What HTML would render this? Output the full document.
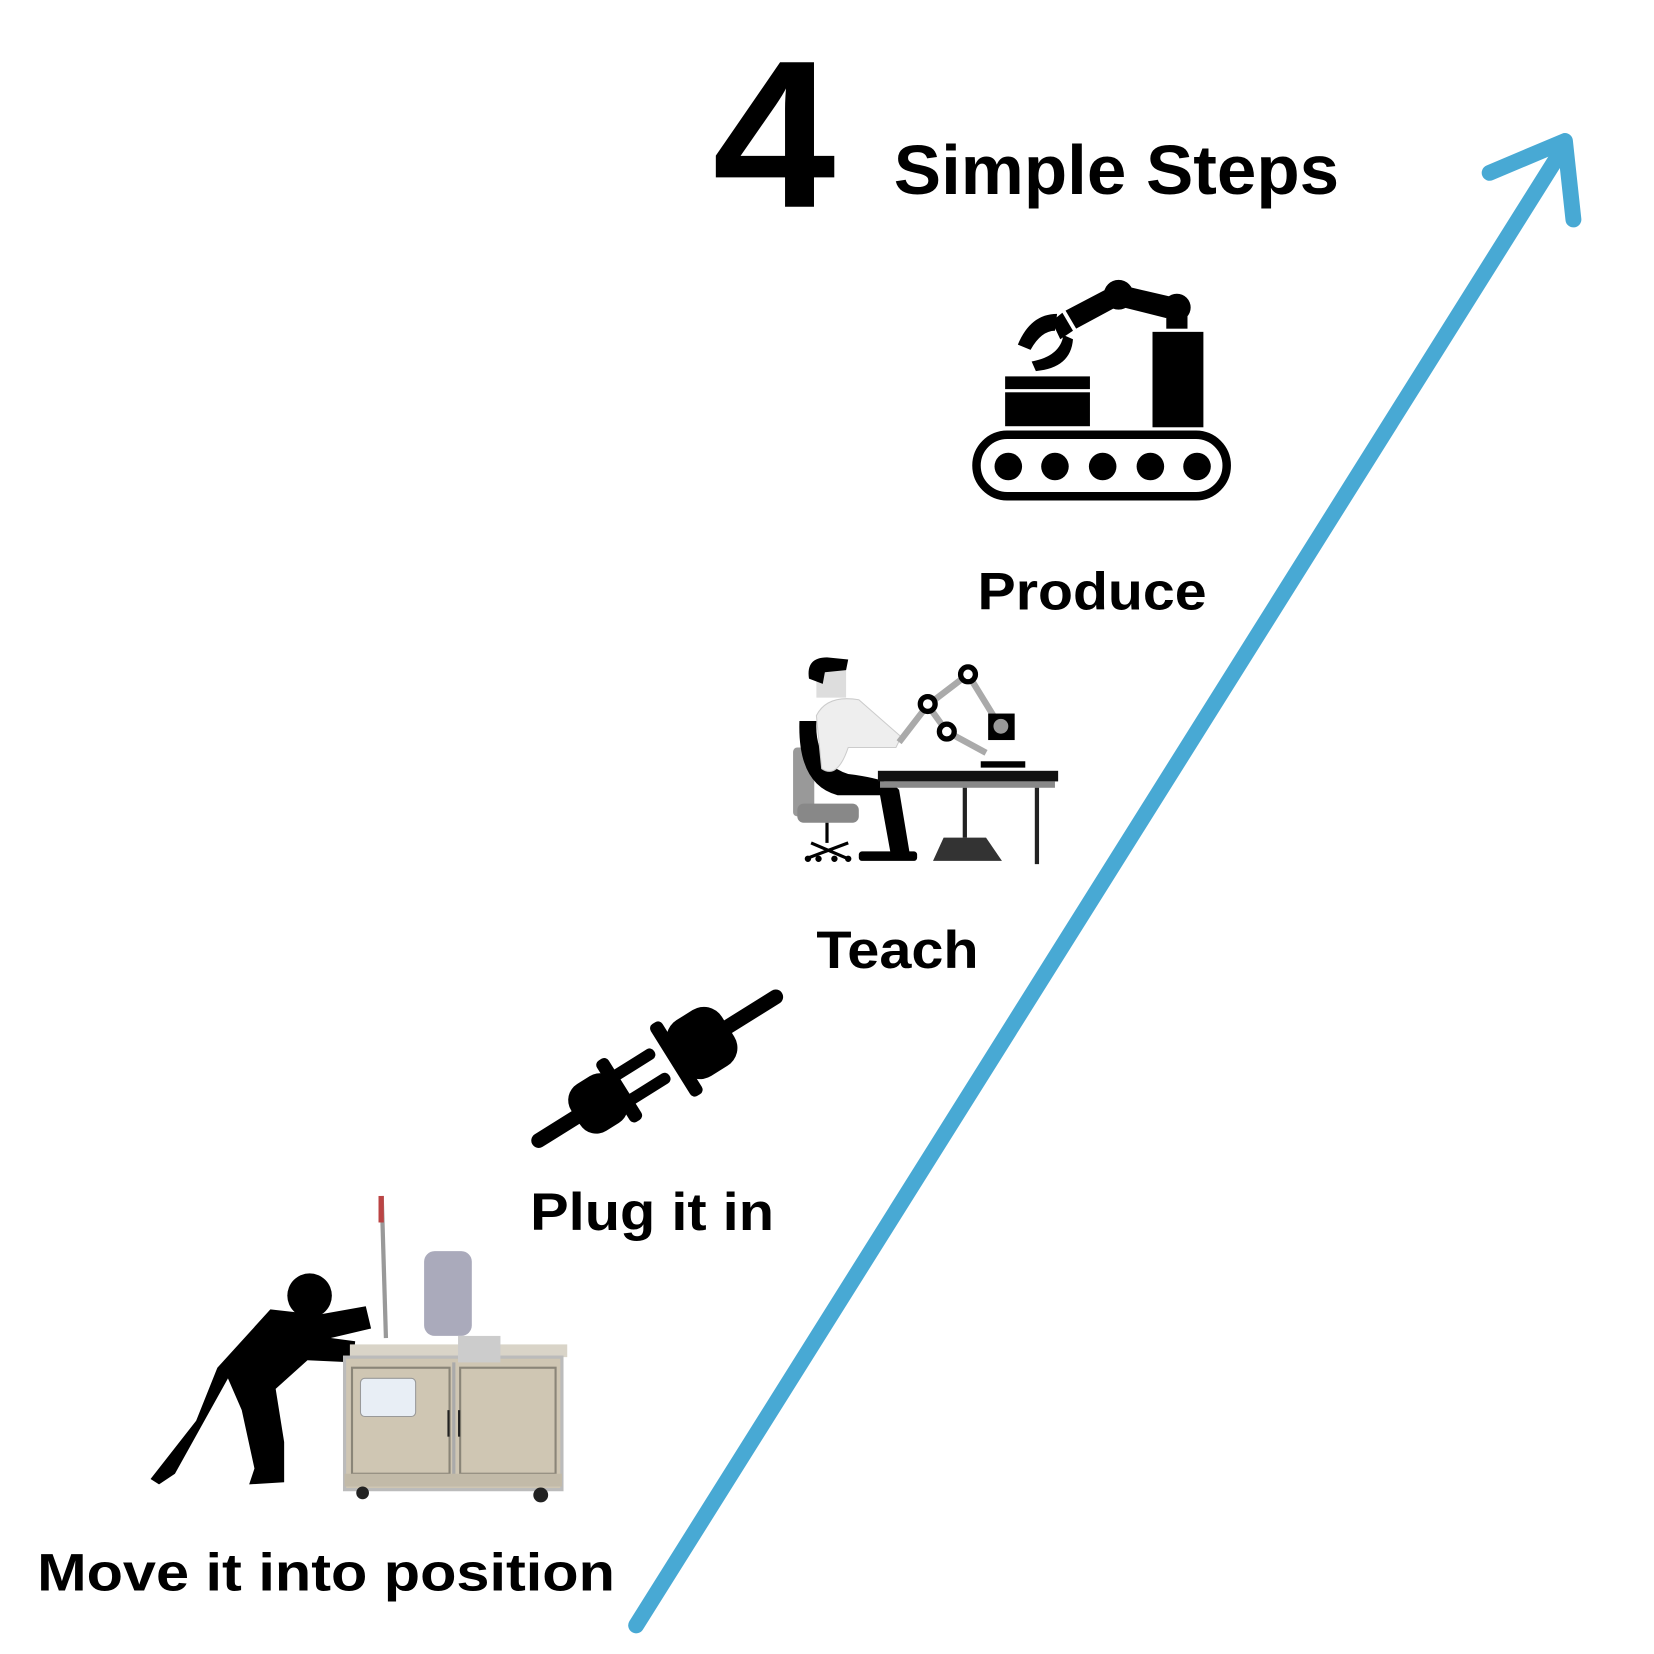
<!DOCTYPE html>
<html><head><meta charset="utf-8"><style>
html,body{margin:0;padding:0;background:#fff;}
svg{display:block;}
text{font-family:"Liberation Sans",sans-serif;font-weight:bold;fill:#000;}
</style></head><body>
<svg width="1654" height="1654" viewBox="0 0 1560 1560" xmlns="http://www.w3.org/2000/svg">
<rect width="1560" height="1560" fill="#fff"/>
<!-- title -->
<text x="672" y="195" font-size="198" textLength="116" lengthAdjust="spacingAndGlyphs">4</text>
<text x="843" y="183" font-size="66" textLength="420" lengthAdjust="spacingAndGlyphs">Simple Steps</text>
<!-- arrow -->
<g stroke="#48A9D4" stroke-width="15" stroke-linecap="round" fill="none">
<line x1="600" y1="1533" x2="1474" y2="140"/>
<polyline points="1405,163 1476,133 1484,207" stroke-linejoin="round"/>
</g>
<!-- Produce icon -->
<g fill="#000">
<rect x="921" y="410" width="236" height="58" rx="29" fill="none" stroke="#000" stroke-width="8"/>
<circle cx="951" cy="440" r="13"/><circle cx="995" cy="440" r="13"/><circle cx="1040" cy="440" r="13"/><circle cx="1085" cy="440" r="13"/><circle cx="1129" cy="440" r="13"/>
<rect x="948" y="355" width="80" height="12"/>
<rect x="948" y="370" width="80" height="32"/>
<rect x="1087" y="313" width="48" height="90"/>
<circle cx="1110" cy="290" r="13"/>
<rect x="1100" y="298" width="20" height="12"/>
<circle cx="1055" cy="278" r="14"/>
<polygon points="1062,270 1105,280 1100,300 1060,290"/>
<polygon points="1045,272 1052,290 1015,310 1005,293"/>
<polygon points="1002,295 1012,312 1000,320 992,303"/>
<path d="M997,296 Q972,296 960,325 L972,330 Q982,312 995,312 Z"/>
<path d="M1003,316 Q1000,336 973,341 L977,350 Q1010,347 1012,320 Z"/>
</g>
<text x="922" y="575" font-size="50" textLength="216" lengthAdjust="spacingAndGlyphs">Produce</text>
<!-- Teach illustration -->
<g>
<rect x="748" y="705" width="20" height="65" rx="4" fill="#999"/>
<rect x="752" y="758" width="58" height="18" rx="6" fill="#888"/>
<g stroke="#000" stroke-width="3"><line x1="780" y1="776" x2="780" y2="795"/><line x1="760" y1="810" x2="800" y2="795"/><line x1="800" y1="810" x2="765" y2="795"/></g>
<circle cx="762" cy="810" r="3"/><circle cx="772" cy="810" r="3"/><circle cx="787" cy="810" r="3"/><circle cx="800" cy="810" r="3"/>
<path d="M754,680 Q752,740 790,750 L830,750 L840,805 L858,805 L848,745 Q840,735 800,730 Q768,720 770,680 Z" fill="#000"/>
<path d="M770,675 Q780,655 810,660 L850,695 L845,705 L800,705 Q790,735 775,725 Z" fill="#eee" stroke="#ccc"/>
<rect x="770" y="632" width="28" height="26" fill="#ddd"/>
<path d="M763,640 Q760,620 780,620 L800,622 L798,632 L778,634 L776,645 Z" fill="#000"/>
<rect x="810" y="803" width="55" height="9" rx="3" fill="#000"/>
<rect x="828" y="727" width="170" height="10" fill="#111"/>
<rect x="830" y="737" width="165" height="6" fill="#888"/>
<line x1="978" y1="743" x2="978" y2="815" stroke="#222" stroke-width="4"/>
<line x1="910" y1="743" x2="910" y2="790" stroke="#222" stroke-width="4"/>
<path d="M880,812 L890,790 L930,790 L945,812 Z" fill="#333"/>
<g stroke="#aaa" stroke-width="6" fill="none"><polyline points="848,700 875,665 893,690 930,710"/><polyline points="875,665 913,636 940,680"/></g>
<g fill="#fff" stroke="#000" stroke-width="5"><circle cx="875" cy="664" r="7"/><circle cx="913" cy="636" r="7"/><circle cx="893" cy="690" r="7"/></g>
<rect x="932" y="673" width="25" height="25" fill="#000"/><circle cx="944" cy="685" r="7" fill="#999"/>
<rect x="925" y="718" width="42" height="6" fill="#000"/>
</g>
<text x="770" y="913" font-size="50" textLength="153" lengthAdjust="spacingAndGlyphs">Teach</text>
<!-- Plugs -->
<g fill="#000">
<g transform="translate(570,1037) rotate(-32)">
<rect x="-80" y="-7" width="60" height="14" rx="7"/>
<rect x="-32" y="-26" width="50" height="52" rx="18"/>
<rect x="10" y="-34" width="13" height="68" rx="5"/>
<rect x="18" y="-19" width="46" height="11" rx="5"/>
<rect x="18" y="8" width="46" height="11" rx="5"/>
</g>
<g transform="translate(668,980) rotate(-32)">
<rect x="-42" y="-40" width="13" height="80" rx="5"/>
<rect x="-36" y="-31" width="58" height="62" rx="20"/>
<rect x="10" y="-7" width="72" height="14" rx="7"/>
</g>
</g>
<text x="500" y="1160" font-size="50" textLength="230" lengthAdjust="spacingAndGlyphs">Plug it in</text>
<!-- Pushing person and cart -->
<g fill="#000">
<circle cx="292" cy="1222" r="21"/>
<path d="M255,1235 L300,1240 L345,1232 L350,1253 L312,1262 L335,1265 L333,1285 L290,1283 L260,1310 L268,1360 L268,1398 L235,1400 L240,1385 L228,1330 L215,1300 L165,1390 L150,1400 L142,1395 L185,1340 L205,1290 Z"/>
</g>
<line x1="360" y1="1128" x2="364" y2="1262" stroke="#999" stroke-width="4"/>
<rect x="357" y="1128" width="5" height="25" fill="#b44"/>
<rect x="400" y="1180" width="45" height="80" rx="10" fill="#aab"/>
<rect x="330" y="1268" width="205" height="12" fill="#d9d4c8"/>
<rect x="325" y="1280" width="205" height="125" fill="#cfc6b3" stroke="#bbb" stroke-width="3"/>
<rect x="332" y="1290" width="92" height="100" fill="none" stroke="#8a8578" stroke-width="2"/>
<rect x="434" y="1290" width="90" height="100" fill="none" stroke="#8a8578" stroke-width="2"/>
<line x1="428" y1="1285" x2="428" y2="1400" stroke="#aaa" stroke-width="3"/>
<line x1="423" y1="1330" x2="423" y2="1355" stroke="#222" stroke-width="2"/>
<line x1="433" y1="1330" x2="433" y2="1355" stroke="#222" stroke-width="2"/>
<rect x="325" y="1390" width="205" height="12" fill="#c2baa8"/>
<rect x="340" y="1300" width="52" height="36" rx="4" fill="#e8eef5" stroke="#999"/>
<rect x="432" y="1260" width="40" height="25" fill="#ccc"/>
<circle cx="342" cy="1408" r="6" fill="#222"/><circle cx="510" cy="1410" r="7" fill="#222"/>
<text x="35" y="1500" font-size="50" textLength="545" lengthAdjust="spacingAndGlyphs">Move it into position</text>
</svg>
</body></html>
